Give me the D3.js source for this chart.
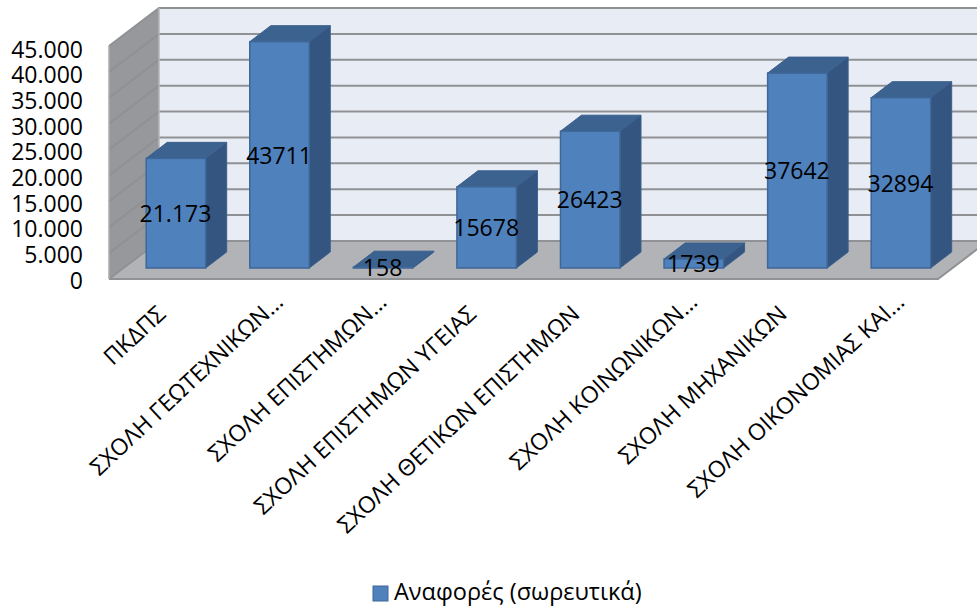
<!DOCTYPE html>
<html>
<head>
<meta charset="utf-8">
<script src="https://cdnjs.cloudflare.com/ajax/libs/d3/7.8.5/d3.min.js"></script>
<style>
html, body { margin: 0; padding: 0; background: #fff; }
svg { display: block; }
text { font-family: "Open Sans", sans-serif; fill: #000; }
</style>
</head>
<body>
<svg width="977" height="608"></svg>
<script>
const categories = ["ΠΚΔΠΣ", "ΣΧΟΛΗ ΓΕΩΤΕΧΝΙΚΩΝ…", "ΣΧΟΛΗ ΕΠΙΣΤΗΜΩΝ…", "ΣΧΟΛΗ ΕΠΙΣΤΗΜΩΝ ΥΓΕΙΑΣ",
                    "ΣΧΟΛΗ ΘΕΤΙΚΩΝ ΕΠΙΣΤΗΜΩΝ", "ΣΧΟΛΗ ΚΟΙΝΩΝΙΚΩΝ…", "ΣΧΟΛΗ ΜΗΧΑΝΙΚΩΝ", "ΣΧΟΛΗ ΟΙΚΟΝΟΜΙΑΣ ΚΑΙ…"];
const values = [21173, 43711, 158, 15678, 26423, 1739, 37642, 32894];
const value_labels = ["21.173", "43711", "158", "15678", "26423", "1739", "37642", "32894"];
const y_ticks = [0, 5000, 10000, 15000, 20000, 25000, 30000, 35000, 40000, 45000];
const tick_labels = ["0", "5.000", "10.000", "15.000", "20.000", "25.000", "30.000", "35.000", "40.000", "45.000"];
const series_name = "Αναφορές (σωρευτικά)";

const svg = d3.select("svg");

// the oblique offset of the back wall, and of one bar
const wall_dx = 50, wall_dy = -38;
const bar_dx = 21, bar_dy = -16;

const x = d3.scaleBand().domain(categories).range([124.45, 952.45]).paddingInner(0.4255).paddingOuter(0.21);
const y = d3.scaleLinear().domain([0, 45000]).range([279, 46]);
const bar_base = 268;
const h = v => y(0) - y(v);

const poly = pts => pts.map(p => p.join(",")).join(" ");

// walls and floor
svg.append("polygon")
   .attr("points", poly([[109, y(0)], [109 + wall_dx, y(0) + wall_dy], [109 + wall_dx, y(45000) + wall_dy], [109, y(45000)]]))
   .style("fill", "#96989b");
svg.append("polygon")
   .attr("points", poly([[109 + wall_dx, y(0) + wall_dy], [988, y(0) + wall_dy], [988, y(45000) + wall_dy], [109 + wall_dx, y(45000) + wall_dy]]))
   .style("fill", "#e8ecf5");
svg.append("polygon")
   .attr("points", poly([[109, y(0)], [938, y(0)], [988, y(0) + wall_dy], [109 + wall_dx, y(0) + wall_dy]]))
   .style("fill", "#b1b3b6");

// gridlines, running along the side wall and the back wall
y_ticks.forEach(function(t){
    svg.append("polyline")
       .attr("points", poly([[109, y(t)], [109 + wall_dx, y(t) + wall_dy], [988, y(t) + wall_dy]]))
       .style("fill", "none")
       .style("stroke", "#8f9194")
       .style("stroke-width", 2);
});
svg.append("polyline")
   .attr("points", poly([[109, y(0)], [938, y(0)], [988, y(0) + wall_dy]]))
   .style("fill", "none").style("stroke", "#8f9193").style("stroke-width", 2);
svg.append("line")
   .attr("x1", 109).attr("x2", 109).attr("y1", y(0)).attr("y2", y(45000))
   .style("stroke", "#a9abae").style("stroke-width", 1.5);
svg.append("line")
   .attr("x1", 109 + wall_dx).attr("x2", 109 + wall_dx).attr("y1", y(0) + wall_dy).attr("y2", y(45000) + wall_dy)
   .style("stroke", "#b4b6b9").style("stroke-width", 1.5);

// bars, back faces first
const bars = svg.selectAll("g.bar").data(values).join("g").attr("class", "bar");
bars.append("polygon")
    .attr("points", (d, i) => {
        const r = x(categories[i]) + x.bandwidth(), t = bar_base - h(d);
        return poly([[r, bar_base], [r + bar_dx, bar_base + bar_dy], [r + bar_dx, t + bar_dy], [r, t]]);
    })
    .style("fill", "#33557f").style("stroke", "#3a5f8e").style("stroke-width", 1);
bars.append("polygon")
    .attr("points", (d, i) => {
        const l = x(categories[i]), r = l + x.bandwidth(), t = bar_base - h(d);
        return poly([[l, t], [r, t], [r + bar_dx, t + bar_dy], [l + bar_dx, t + bar_dy]]);
    })
    .style("fill", "#3c628f").style("stroke", "#3a5f8e").style("stroke-width", 1);
bars.append("rect")
    .attr("x", (d, i) => x(categories[i]))
    .attr("y", d => bar_base - h(d))
    .attr("width", x.bandwidth())
    .attr("height", d => h(d))
    .style("fill", "#4f81bd").style("stroke", "#3f6797").style("stroke-width", 1.5);

// value labels
bars.append("text")
    .attr("x", (d, i) => x(categories[i]) + x.bandwidth() / 2 - 0.5)
    .attr("y", d => bar_base - h(d) / 2 + 1)
    .attr("dy", "0.34em")
    .attr("text-anchor", "middle")
    .style("font-size", "23px")
    .text((d, i) => value_labels[i]);

// y axis labels
svg.selectAll("text.ytick").data(y_ticks).join("text")
   .attr("class", "ytick")
   .attr("x", 83)
   .attr("y", d => y(d) + 2 + d / 45000 * 2)
   .attr("dy", "0.34em")
   .attr("text-anchor", "end")
   .style("font-size", "23px")
   .text((d, i) => tick_labels[i]);

// category labels, the cut ones sit a bit further along
svg.selectAll("text.cat").data(categories).join("text")
   .attr("class", "cat")
   .attr("text-anchor", "end")
   .attr("transform", d => {
       const cut = d.endsWith("…");
       return "translate(" + (x(d) + x.bandwidth() / 2 + (cut ? -6 : -20)) + "," + (cut ? 292 : 304) + ") rotate(-43)";
   })
   .attr("dy", "0.7em")
   .style("font-size", "23px")
   .text(d => d);

// legend
svg.append("rect")
   .attr("x", 373).attr("y", 586).attr("width", 15).attr("height", 15)
   .style("fill", "#4f81bd").style("stroke", "#3f6797").style("stroke-width", 1);
svg.append("text")
   .attr("x", 394).attr("y", 592).attr("dy", "0.36em")
   .style("font-size", "23.5px")
   .text(series_name);
</script>
</body>
</html>
